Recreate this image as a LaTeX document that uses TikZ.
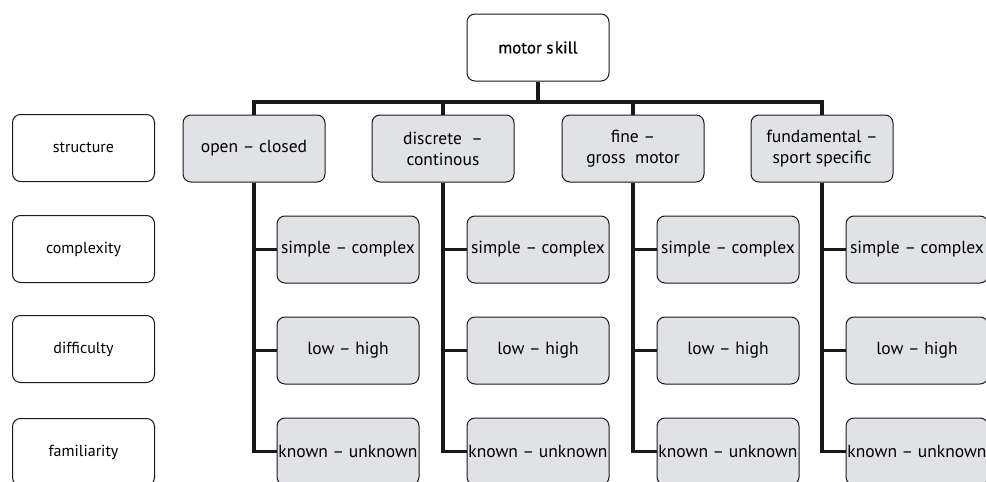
\documentclass[tikz,border=0pt]{standalone}
\usepackage{fontspec}
\setmainfont{PT Sans}
\definecolor{boxgray}{HTML}{E1E2E5}
\definecolor{edge}{HTML}{1A1A1A}
\begin{document}
\begin{tikzpicture}[x=1pt,y=-1pt,
  base/.style={draw=edge,line width=1pt,rounded corners=8pt,minimum width=142pt,minimum height=67pt,inner sep=0pt,align=center},
  plain/.style={base,fill=white,font=\fontsize{16}{18}\selectfont},
  lvone/.style={base,fill=boxgray,font=\fontsize{17.5}{21}\selectfont},
  lvtwo/.style={base,fill=boxgray,font=\fontsize{17.5}{20}\selectfont},
  conn/.style={line width=3.5pt,draw=black!90,line join=miter}]
\useasboundingbox (0,0) rectangle (986,482);
\begin{scope}
\clip (0,0) rectangle (986,482);
% root
\node[plain,font=\fontsize{17}{18}\selectfont\addfontfeature{FakeBold=0.6}] (ms) at (538,47.5) {motor s\kern1.5pt kill};
% left labels
\node[plain] (st) at (83.5,148) {structure};
\node[plain] (cx) at (83.5,249) {complexity};
\node[plain] (df) at (83.5,349) {difficulty};
\node[plain] (fm) at (83.5,452) {familiarity};
% level one
\node[lvone] (a) at (254,148.5) {open -- closed};
\node[lvone] (b) at (443,148.5) {discrete \ --\\continous};
\node[lvone] (c) at (633,148.5) {fine --\\gross\ \ motor};
\node[lvone] (d) at (822,148.5) {fundamental --\\sport specific};
% level two
\foreach \n/\x in {a/348,b/538,c/728,d/917}{
  \node[lvtwo] (\n1) at (\x,249.5) {simple -- complex};
  \node[lvtwo] (\n2) at (\x,350.5) {low -- high};
  \node[lvtwo] (\n3) at (\x,451.5) {known -- unknown};
}
% connectors
\coordinate (bar) at (538,102);
\draw[conn] (ms.south) -- (bar);
\foreach \n in {a,b,c,d}{
  \draw[conn] (bar) -| (\n.north);
  \draw[conn] (\n.south) |- (\n3.west);
  \draw[conn] (\n.south |- \n1.west) -- (\n1.west);
  \draw[conn] (\n.south |- \n2.west) -- (\n2.west);
}
\end{scope}
\end{tikzpicture}
\end{document}
